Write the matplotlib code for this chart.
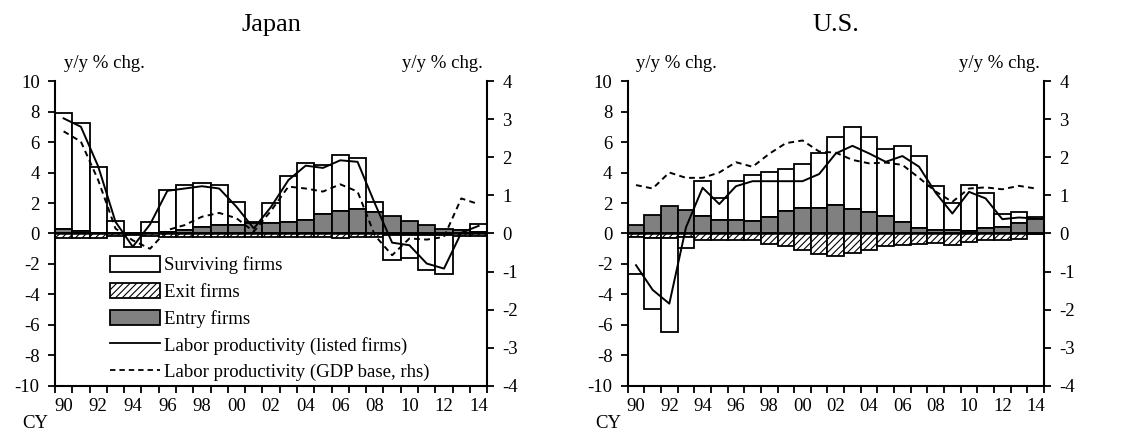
import numpy as np
import matplotlib.pyplot as plt
from matplotlib.patches import Patch
from matplotlib.lines import Line2D

plt.rcParams['font.family'] = ['Liberation Serif', 'DejaVu Serif']
plt.rcParams['hatch.linewidth'] = 0.8
plt.rcParams['axes.unicode_minus'] = False

years = np.arange(1990, 2015)

# Japan: contributions to labor productivity (y/y % chg.)
jp_entry = [0.3, 0.15, 0.05, 0.0, 0.0, 0.05, 0.1, 0.25, 0.4, 0.55, 0.55, 0.7, 0.7,
            0.75, 0.9, 1.3, 1.5, 1.6, 1.4, 1.15, 0.8, 0.55, 0.3, 0.2, 0.1]
jp_exit = [-0.3, -0.3, -0.3, -0.15, -0.1, -0.15, -0.2, -0.25, -0.25, -0.2, -0.2, -0.25, -0.25,
           -0.25, -0.25, -0.2, -0.3, -0.25, -0.2, -0.1, -0.1, -0.1, -0.1, -0.15, -0.15]
jp_surv = [7.6, 7.1, 4.3, 0.85, -0.8, 0.7, 2.75, 2.9, 2.9, 2.6, 1.5, 0.05, 1.27,
           3.05, 3.75, 3.2, 3.65, 3.35, 0.66, -1.65, -1.5, -2.3, -2.55, 0.05, 0.55]
jp_listed = [7.55, 7.0, 4.4, 0.77, -0.87, 0.6, 2.8, 2.95, 3.1, 2.95, 1.75, 0.33, 1.75,
             3.5, 4.45, 4.3, 4.8, 4.7, 1.97, -0.6, -0.77, -1.97, -2.3, 0.05, 0.5]
jp_gdp = [2.68, 2.41, 1.4, 0.13, -0.18, -0.4, 0.09, 0.22, 0.44, 0.54, 0.4, 0.05, 0.6,
          1.23, 1.18, 1.1, 1.29, 1.1, -0.05, -0.57, -0.13, -0.16, -0.09, 0.92, 0.77]

# U.S.
us_entry = [0.55, 1.2, 1.8, 1.53, 1.14, 0.88, 0.88, 0.83, 1.1, 1.47, 1.7, 1.7, 1.86,
            1.6, 1.38, 1.14, 0.77, 0.37, 0.26, 0.2, 0.15, 0.33, 0.4, 0.72, 0.95]
us_exit = [-0.2, -0.3, -0.3, -0.2, -0.45, -0.4, -0.4, -0.45, -0.7, -0.8, -1.1, -1.35, -1.45,
           -1.25, -1.05, -0.85, -0.75, -0.7, -0.65, -0.75, -0.55, -0.45, -0.4, -0.35, -0.05]
us_surv = [-2.47, -4.67, -6.15, -0.78, 2.32, 1.46, 2.58, 3.0, 2.93, 2.73, 2.83, 3.55, 4.49,
           5.36, 4.92, 4.4, 4.98, 4.68, 2.84, 1.8, 3.05, 2.34, 0.91, 0.7, 0.1]
us_listed = [-2.08, -3.7, -4.6, 0.4, 3.0, 1.93, 3.1, 3.43, 3.43, 3.43, 3.43, 3.9, 5.25,
             5.75, 5.25, 4.7, 5.08, 4.38, 2.67, 1.31, 2.73, 2.3, 0.94, 1.05, 0.98]
us_gdp = [1.27, 1.18, 1.6, 1.46, 1.46, 1.6, 1.87, 1.75, 2.09, 2.37, 2.44, 2.15, 2.12,
          1.93, 1.84, 1.86, 1.8, 1.46, 1.1, 0.83, 1.18, 1.21, 1.16, 1.25, 1.18]

GRAY = '#808080'
LW = 1.3
FS = 13.5
DASH = (0, (3.0, 2.2))

fig = plt.figure(figsize=(11.31, 4.36), dpi=100)


def panel(rect, title, entry, exit_, surv, listed, gdp):
    ax = fig.add_axes(rect)
    entry = np.array(entry)
    exit_ = np.array(exit_)
    surv = np.array(surv)
    base = np.where(surv >= 0, entry, exit_)

    ax.bar(years, exit_, width=1.0, color='white', edgecolor='black', linewidth=LW,
           hatch='/////', zorder=2)
    ax.bar(years, surv, bottom=base, width=1.0, color='white', edgecolor='black',
           linewidth=LW, zorder=2)
    ax.bar(years, entry, width=1.0, color=GRAY, edgecolor='black', linewidth=LW, zorder=2)
    ax.axhline(0, color='black', lw=1.8, zorder=3)
    ax.plot(years, listed, color='black', lw=1.4, zorder=4)

    ax.set_xlim(1989.5, 2014.5)
    ax.set_ylim(-10, 10)
    ax.set_yticks(np.arange(-10, 11, 2))
    ax.set_xticks(np.arange(1990, 2015, 2))
    ax.set_xticklabels(['%02d' % (y % 100) for y in range(1990, 2015, 2)])
    ax.set_xticks(np.arange(1989.5, 2015, 1), minor=True)
    ax.tick_params(axis='x', which='major', length=0, pad=9, labelsize=FS)
    ax.tick_params(axis='x', which='minor', length=5, width=1.3, direction='out')
    ax.tick_params(axis='y', length=5, width=1.3, direction='out', labelsize=FS, pad=6)
    for s in ['top', 'right']:
        ax.spines[s].set_visible(False)
    for s in ['left', 'bottom']:
        ax.spines[s].set_linewidth(1.5)

    ax2 = ax.twinx()
    ax2.plot(years, gdp, color='black', lw=1.4, ls=DASH, zorder=4)
    ax2.set_ylim(-4, 4)
    ax2.set_yticks(np.arange(-4, 5, 1))
    ax2.tick_params(axis='y', length=5, width=1.3, direction='out', labelsize=FS, pad=6)
    for s in ['top', 'left', 'bottom']:
        ax2.spines[s].set_visible(False)
    ax2.spines['right'].set_linewidth(1.5)

    ax.set_title(title, fontsize=19, pad=36)
    ax.text(0.02, 1.03, 'y/y % chg.', transform=ax.transAxes, fontsize=FS,
            ha='left', va='bottom')
    ax.text(0.99, 1.03, 'y/y % chg.', transform=ax.transAxes, fontsize=FS,
            ha='right', va='bottom')
    ax.text(-0.016, -0.095, 'CY', transform=ax.transAxes, fontsize=FS,
            ha='right', va='top')
    return ax


ax_jp = panel([0.0486, 0.1147, 0.3822, 0.6995], 'Japan',
              jp_entry, jp_exit, jp_surv, jp_listed, jp_gdp)
ax_us = panel([0.555, 0.1147, 0.368, 0.6995], 'U.S.',
              us_entry, us_exit, us_surv, us_listed, us_gdp)

handles = [
    Patch(facecolor='white', edgecolor='black', linewidth=LW, label='Surviving firms'),
    Patch(facecolor='white', edgecolor='black', linewidth=LW, hatch='/////', label='Exit firms'),
    Patch(facecolor=GRAY, edgecolor='black', linewidth=LW, label='Entry firms'),
    Line2D([], [], color='black', lw=1.3, label='Labor productivity (listed firms)'),
    Line2D([], [], color='black', lw=1.3, ls=DASH,
           label='Labor productivity (GDP base, rhs)'),
]
leg = ax_jp.legend(handles=handles, loc='upper left', bbox_to_anchor=(0.11, 0.45),
                   frameon=False, fontsize=FS, handlelength=2.65, handleheight=0.9,
                   handletextpad=0.25, labelspacing=0.45, borderaxespad=0)
leg.set_zorder(10)

plt.savefig('out.png', dpi=100)
